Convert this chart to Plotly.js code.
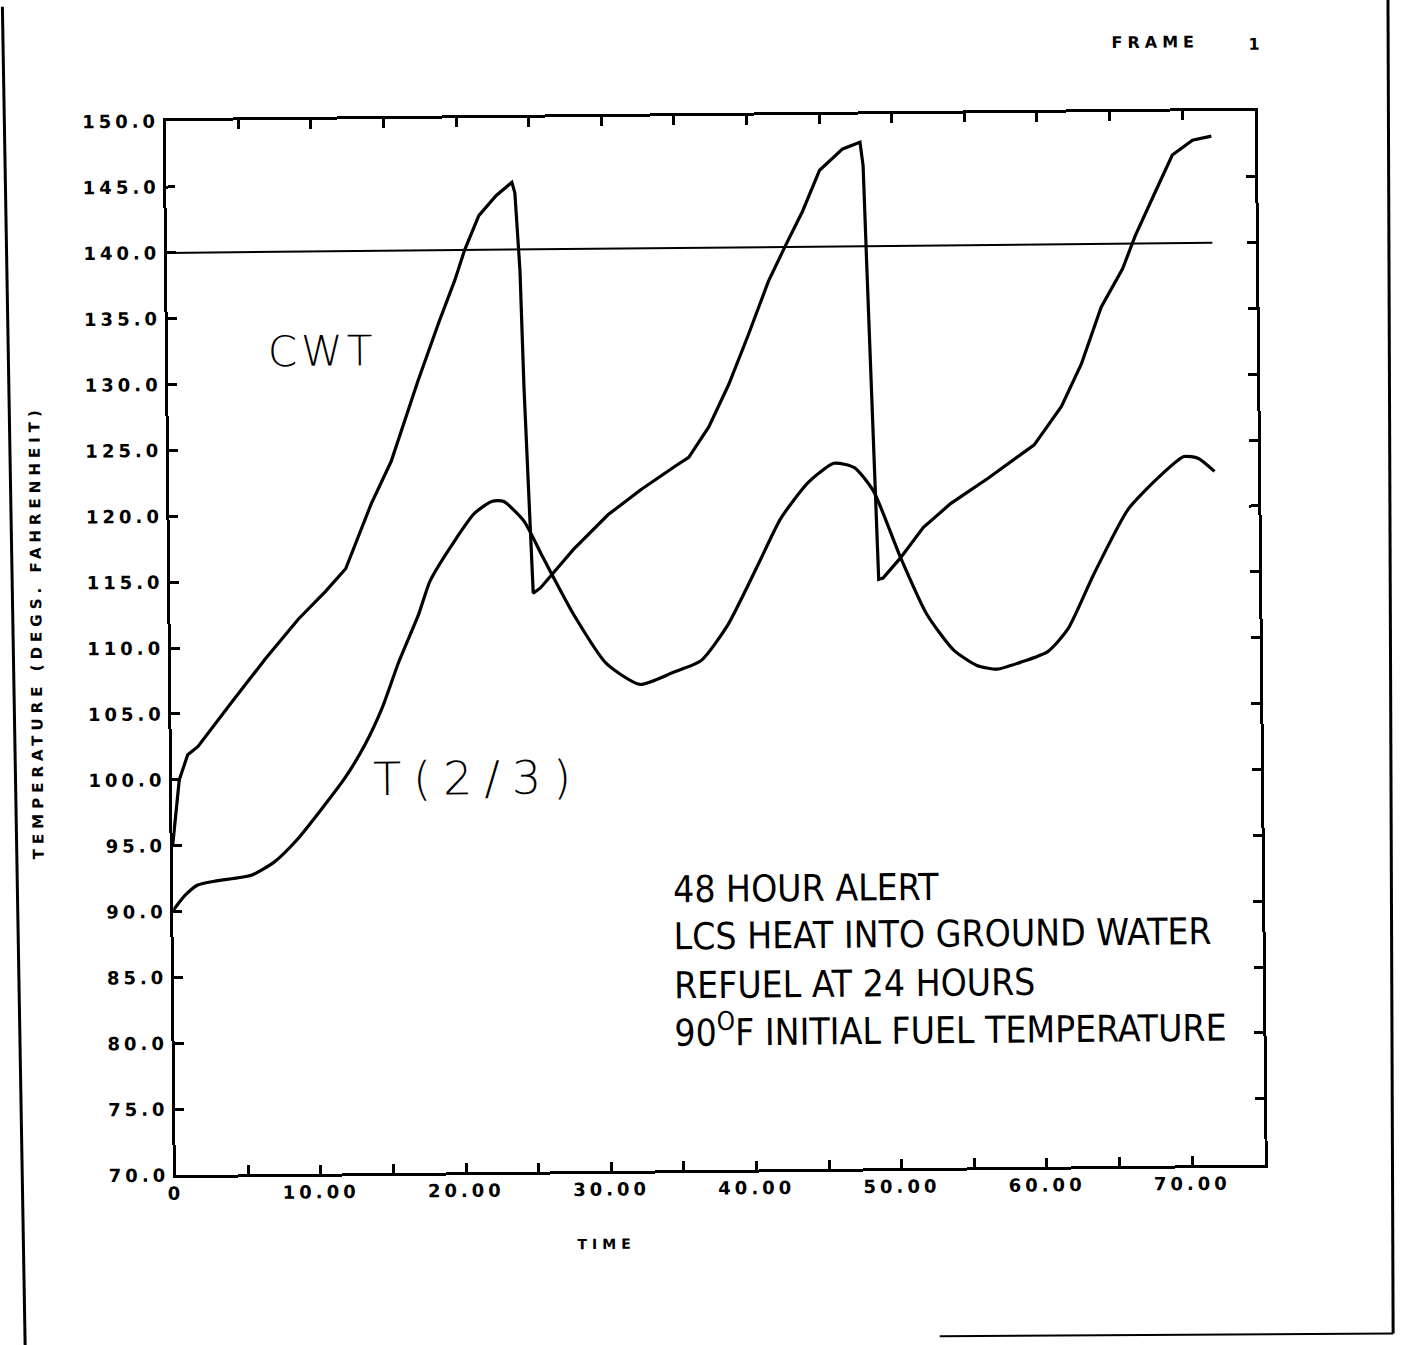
<!DOCTYPE html>
<html>
<head>
<meta charset="utf-8">
<script src="https://cdn.plot.ly/plotly-3.0.1.min.js"></script>
<style>
  html, body { margin: 0; padding: 0; background: #fff; overflow: hidden; }
  #plot { width: 1410px; height: 1345px; transform: rotate(-0.55deg); transform-origin: 50% 50%; }
  .xtick text, .ytick text { letter-spacing: 4px; }
  g.annotation[data-index="0"] text, g.annotation[data-index="1"] text,
  g.annotation[data-index="2"] text, g.annotation[data-index="3"] text { letter-spacing: 5px; }
  g.annotation[data-index="5"] text { letter-spacing: 12px; }
  g.annotation[data-index="4"] text { letter-spacing: 4px; }
</style>
</head>
<body>
<div id="plot"></div>
<script>
// ---- data ----
const cwtTime = [0, 0.5, 1.1, 1.8, 4.2, 6.5, 8.8, 10.7, 12.1, 13.9, 15.3, 17.2, 18.7, 19.8, 20.5, 21.5, 22.7, 23.8, 24.0, 24.3, 24.5, 25.0, 25.5, 27.8, 30.2, 32.5, 34.8, 35.8, 37.2, 38.6, 40.0, 41.4, 42.6, 43.8, 45.0, 46.6, 47.8, 48.0, 48.2, 48.4, 48.65, 48.8, 49.1, 50.3, 51.9, 53.8, 56.4, 59.6, 61.5, 62.9, 64.3, 65.8, 66.7, 68.1, 69.3, 70.7, 72.0];
const cwtTemp = [95.0, 100.0, 101.9, 102.5, 105.9, 109.1, 112.1, 114.2, 115.9, 120.8, 124.0, 130.1, 134.6, 137.7, 140.0, 142.6, 144.1, 145.1, 144.3, 138.4, 129.5, 113.9, 114.3, 117.2, 119.8, 121.7, 123.4, 124.1, 126.4, 129.6, 133.4, 137.4, 140.1, 142.7, 145.8, 147.4, 147.9, 146.1, 138.0, 129.2, 120.5, 114.7, 114.8, 116.3, 118.6, 120.4, 122.3, 124.8, 127.7, 130.9, 135.2, 138.1, 140.6, 143.9, 146.7, 147.8, 148.1];

const t23Time = [0, 0.8, 1.7, 3.0, 5.4, 7.0, 8.6, 10.3, 11.9, 13.3, 14.5, 15.7, 17.1, 17.9, 19.6, 21.0, 22.2, 23.0, 24.4, 25.7, 27.8, 30.0, 32.3, 34.6, 36.5, 38.35, 40.5, 42.1, 44.0, 45.8, 47.2, 48.5, 50.3, 52.1, 53.9, 55.5, 56.9, 58.5, 60.4, 61.8, 63.6, 66.0, 68.1, 69.9, 70.9, 72.0];
const t23Temp = [90.1, 91.2, 92.0, 92.3, 92.7, 93.7, 95.4, 97.7, 100.0, 102.5, 105.25, 108.8, 112.4, 114.9, 117.9, 120.0, 120.9, 120.9, 119.4, 116.6, 112.2, 108.5, 106.9, 107.8, 108.65, 111.3, 115.9, 119.4, 122.1, 123.55, 123.2, 121.4, 116.4, 112.0, 109.3, 108.1, 107.8, 108.3, 109.1, 110.8, 114.9, 119.8, 122.2, 123.8, 123.65, 122.65];

const limitTime = [0, 72];
const limitTemp = [140, 140];

const xTickVals = [0, 10, 20, 30, 40, 50, 60, 70];
const xTickText = ["0", "10.00", "20.00", "30.00", "40.00", "50.00", "60.00", "70.00"];
const yTickVals = [70, 75, 80, 85, 90, 95, 100, 105, 110, 115, 120, 125, 130, 135, 140, 145, 150];
const yTickText = ["70.0", "75.0", "80.0", "85.0", "90.0", "95.0", "100.0", "105.0", "110.0", "115.0", "120.0", "125.0", "130.0", "135.0", "140.0", "145.0", "150.0"];

const noteLines = ["48 HOUR ALERT", "LCS HEAT INTO GROUND WATER", "REFUEL AT 24 HOURS", "90<sup>O</sup>F INITIAL FUEL TEMPERATURE"];

// ---- traces ----
const traces = [
  { x: limitTime, y: limitTemp, mode: 'lines', line: { color: '#000', width: 2 }, hoverinfo: 'skip' },
  { x: cwtTime, y: cwtTemp, mode: 'lines', line: { color: '#000', width: 3.2 }, name: 'CWT' },
  { x: t23Time, y: t23Temp, mode: 'lines', line: { color: '#000', width: 3.2, shape: 'spline', smoothing: 0.6 }, name: 'T(2/3)' }
];

const bold = { family: 'DejaVu Sans, sans-serif', size: 18, color: '#000', weight: 'bold' };
const noteFont = { family: 'Liberation Sans Narrow, DejaVu Sans Condensed, Arial Narrow, sans-serif', size: 37, color: '#000' };
const handFont = { family: 'DejaVu Sans, sans-serif', size: 42, color: '#000', weight: 300 };

const noteY = [0.2657, 0.2211, 0.1746, 0.1328];

const annotations = [
  { text: 'FRAME', x: 0.939, y: 1.0765, xref: 'paper', yref: 'paper', showarrow: false, font: Object.assign({}, bold, { size: 16 }) },
  { text: '1', x: 1.009, y: 1.074, xref: 'paper', yref: 'paper', showarrow: false, font: Object.assign({}, bold, { size: 16 }) },
  { text: 'TEMPERATURE (DEGS. FAHRENHEIT)', x: -0.1337, y: 0.5166, xref: 'paper', yref: 'paper', textangle: -90, showarrow: false, font: Object.assign({}, bold, { size: 15 }) },
  { text: 'TIME', x: 0.3953, y: -0.0787, xref: 'paper', yref: 'paper', showarrow: false, font: Object.assign({}, bold, { size: 14 }) },
  { text: 'CWT', x: 0.0955, y: 0.8055, xref: 'paper', yref: 'paper', showarrow: false, font: handFont },
  { text: 'T(2/3)', x: 0.2158, y: 0.3738, xref: 'paper', yref: 'paper', showarrow: false, font: Object.assign({}, handFont, { size: 46 }) }
];
noteLines.forEach((t, i) => {
  annotations.push({ text: t, x: 0.4573, y: noteY[i], xref: 'paper', yref: 'paper', xanchor: 'left', yanchor: 'middle', showarrow: false, font: noteFont });
});

const shapes = [
  { type: 'line', xref: 'paper', yref: 'paper', x0: -0.149, y0: 1.1195, x1: -0.1397, y1: -0.180, line: { color: '#000', width: 3 } },
  { type: 'line', xref: 'paper', yref: 'paper', x0: 1.1235, y0: 1.1195, x1: 1.1164, y1: -0.1613, line: { color: '#000', width: 3 } },
  { type: 'line', xref: 'paper', yref: 'paper', x0: 0.70, y0: -0.1598, x1: 1.1164, y1: -0.1613, line: { color: '#000', width: 2 } }
];

const axisCommon = {
  showline: true, linecolor: '#000', linewidth: 3, mirror: 'ticks',
  ticks: 'inside', ticklen: 9, tickwidth: 3, tickcolor: '#000',
  showgrid: false, zeroline: false, tickmode: 'array', tickfont: bold, fixedrange: true
};

const layout = {
  width: 1410, height: 1345,
  margin: { l: 171, r: 150, t: 116, b: 175 },
  paper_bgcolor: '#fff', plot_bgcolor: '#fff',
  showlegend: false,
  xaxis: Object.assign({}, axisCommon, {
    range: [0, 75], tickvals: xTickVals, ticktext: xTickText,
    minor: { tickmode: 'linear', tick0: 0, dtick: 5, ticks: 'inside', ticklen: 9, tickwidth: 3, tickcolor: '#000', showgrid: false }
  }),
  yaxis: Object.assign({}, axisCommon, { range: [70, 150], tickvals: yTickVals, ticktext: yTickText }),
  annotations: annotations,
  shapes: shapes
};

Plotly.newPlot('plot', traces, layout, { staticPlot: true, displayModeBar: false });
</script>
</body>
</html>
